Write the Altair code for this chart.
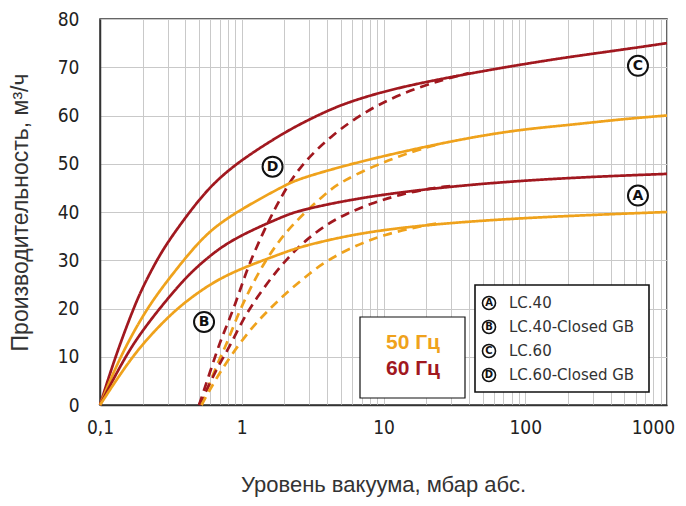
import altair as alt
import pandas as pd

# ---- data ----
C60_x = [0.1, 0.128, 0.172, 0.2, 0.251, 0.31, 0.5, 0.7, 1.05, 2, 3, 5, 10, 20, 50, 100, 200, 500, 1000]
C60 = [0, 10, 20, 24.4, 30, 34.4, 42.7, 47.2, 51.3, 56.5, 59.2, 62.3, 65, 67, 69.2, 70.7, 72.1, 73.7, 75]
C50_x = [0.1, 0.138, 0.213, 0.31, 0.5, 0.7, 1.05, 2, 2.58, 7.6, 38.6, 100, 200, 500, 1000]
C50 = [0, 10, 20, 26.4, 34, 37.7, 41, 45.5, 47, 50.9, 55.4, 57.2, 58, 59.3, 60]
A60_x = [0.1, 0.15, 0.2, 0.28, 0.4, 0.5, 0.7, 1.05, 2, 2.58, 7.6, 38.6, 195, 1000]
A60 = [0, 10, 15.5, 21, 26.3, 29, 32.6, 35.6, 39.2, 40.4, 43.3, 45.7, 47.1, 47.9]
A50_x = [0.1, 0.167, 0.25, 0.35, 0.5, 0.7, 1.05, 2, 2.58, 7.6, 38.6, 195, 1000]
A50 = [0, 10, 15.8, 20, 23.5, 26.2, 28.6, 31.6, 32.8, 36.1, 38.1, 39.2, 40]

D60_x = [0.5, 0.6, 0.7, 0.8, 0.95, 1.1, 1.4, 1.7, 2, 2.6, 4.4, 7.6, 13, 25, 40]
D60 = [0, 7, 13, 17, 22.8, 28.5, 35.5, 40.5, 44.3, 49.7, 56.2, 61, 64.4, 67.3, 68.8]
D50_x = [0.52, 0.66, 0.78, 0.94, 1.14, 1.42, 1.76, 2.3, 4, 5.2, 8.5, 13, 20, 25]
D50 = [0, 8.1, 12.5, 18.8, 24, 29.2, 33.3, 37.6, 44.2, 46.5, 49.5, 51.6, 53.4, 54.1]
B60_x = [0.5, 0.6, 0.7, 0.82, 1, 1.27, 1.67, 2.07, 2.8, 4, 5.5, 8.4, 13, 22, 30]
B60 = [0, 4.7, 8.7, 12, 17.3, 22.2, 26.9, 30.2, 34.1, 37.5, 39.7, 41.9, 43.6, 45, 45.4]
B50_x = [0.52, 0.65, 0.84, 1.17, 1.58, 2.13, 2.96, 4, 6.4, 10, 19, 25]
B50 = [0, 5.2, 10.3, 16, 20, 23.6, 27.1, 30, 33.1, 35.3, 37.2, 37.7]

labels_letter = ["A", "B", "C", "D"]
labels_x = [624, 0.542, 624, 1.65]
labels_y = [43.4, 17.2, 70.3, 49.4]

legend_letters = ["A", "B", "C", "D"]
legend_names = ["LC.40", "LC.40-Closed GB", "LC.60", "LC.60-Closed GB"]

x_ticks = [0.1, 0.2, 0.3, 0.4, 0.5, 0.6, 0.7, 0.8, 0.9,
           1, 2, 3, 4, 5, 6, 7, 8, 9,
           10, 20, 30, 40, 50, 60, 70, 80, 90,
           100, 200, 300, 400, 500, 600, 700, 800, 900, 1000]
y_ticks = [0, 10, 20, 30, 40, 50, 60, 70, 80]

ORANGE = "#efa21c"
DARKRED = "#a1181f"

rows = []
def add(name, freq, kind, xs, ys):
    for i, (a, b) in enumerate(zip(xs, ys)):
        rows.append({"x": a, "y": b, "series": name, "freq": freq, "kind": kind, "i": i})

add("D60", "60", "dashed", D60_x, D60)
add("D50", "50", "dashed", D50_x, D50)
add("B60", "60", "dashed", B60_x, B60)
add("B50", "50", "dashed", B50_x, B50)
add("C60", "60", "solid", C60_x, C60)
add("C50", "50", "solid", C50_x, C50)
add("A60", "60", "solid", A60_x, A60)
add("A50", "50", "solid", A50_x, A50)
df = pd.DataFrame(rows)

FONT_NUM = "Liberation Sans Narrow, DejaVu Sans Condensed, Roboto Condensed, Liberation Sans"
FONT_TXT = "Liberation Sans, Arial, sans-serif"

xscale = alt.Scale(type="log", domain=[0.1, 1000], nice=False)
yscale = alt.Scale(domain=[0, 80], nice=False)

x_axis = alt.Axis(
    values=x_ticks,
    labelExpr="datum.value == 0.1 ? '0,1' : (indexof([1, 10, 100, 1000], datum.value) >= 0 ? format(datum.value, 'd') : '')",
    labelOverlap=False, labelBound=False, labelFlush=False,
    labelOffset={"condition": {"test": "datum.value == 1000", "value": -14}, "value": 0},
    labelFont=FONT_NUM, labelFontSize=19, labelColor="#222", labelPadding=13,
    ticks=False, grid=True, gridColor="#c9c9c9", gridWidth=1,
    domainColor="#333", domainWidth=1.5,
    title="Уровень вакуума, мбар абс.", titleFont=FONT_TXT, titleFontSize=22,
    titleFontWeight="normal", titleColor="#333", titleX=283, titleY=79,
    titleBaseline="middle", titleAlign="center",
)
y_axis = alt.Axis(
    values=y_ticks, labelFont=FONT_NUM, labelFontSize=19, labelColor="#222",
    labelPadding=21, ticks=False, grid=True, gridColor="#c9c9c9", gridWidth=1,
    domainColor="#333", domainWidth=1.5,
    title="Производительность, м³/ч", titleFont=FONT_TXT, titleFontSize=23,
    titleFontWeight="normal", titleColor="#333", titleX=-80, titleY=193,
    titleAngle=-90, titleBaseline="middle", titleAlign="center",
)

lines = alt.Chart(df).mark_line(strokeWidth=2.7, interpolate="basis").encode(
    x=alt.X("x:Q", scale=xscale, axis=x_axis),
    y=alt.Y("y:Q", scale=yscale, axis=y_axis),
    color=alt.Color("freq:N", scale=alt.Scale(domain=["50", "60"], range=[ORANGE, DARKRED]), legend=None),
    strokeDash=alt.StrokeDash("kind:N", scale=alt.Scale(domain=["solid", "dashed"], range=[[1, 0], [9, 6]]), legend=None),
    detail="series:N",
    order="i:Q",
)

lab_df = pd.DataFrame({"letter": labels_letter, "x": labels_x, "y": labels_y})
lab_circ = alt.Chart(lab_df).mark_point(shape="circle", size=400, filled=True, fill="white",
                                        stroke="#111", strokeWidth=2, opacity=1).encode(
    x=alt.X("x:Q", scale=xscale), y=alt.Y("y:Q", scale=yscale))
lab_txt = alt.Chart(lab_df).mark_text(font="DejaVu Sans", fontSize=14, fontWeight="bold",
                                      color="#111", baseline="middle", align="center").encode(
    x=alt.X("x:Q", scale=xscale), y=alt.Y("y:Q", scale=yscale), text="letter:N")

one = pd.DataFrame({"a": [0]})
# frequency box
fbox = alt.Chart(one).mark_rect(fill="white", stroke="#111", strokeWidth=1.2).encode(
    x=alt.value(260), x2=alt.value(365), y=alt.value(298), y2=alt.value(379))
f50 = alt.Chart(one).mark_text(text="50 Гц", font="Liberation Sans", fontSize=21, fontWeight="bold",
                               color=ORANGE, align="center", baseline="middle").encode(
    x=alt.value(313), y=alt.value(324))
f60 = alt.Chart(one).mark_text(text="60 Гц", font="Liberation Sans", fontSize=21, fontWeight="bold",
                               color=DARKRED, align="center", baseline="middle").encode(
    x=alt.value(313), y=alt.value(350))

# letters legend box
lbox = alt.Chart(one).mark_rect(fill="white", stroke="#111", strokeWidth=1.6).encode(
    x=alt.value(375), x2=alt.value(549), y=alt.value(266), y2=alt.value(373))
leg_layers = []
for k, (lt, nm) in enumerate(zip(legend_letters, legend_names)):
    yy = 284 + 24 * k
    leg_layers.append(alt.Chart(one).mark_point(shape="circle", size=170, filled=True, fill="white",
                                                 stroke="#111", strokeWidth=1.6, opacity=1).encode(
        x=alt.value(389), y=alt.value(yy)))
    leg_layers.append(alt.Chart(one).mark_text(text=lt, font="DejaVu Sans", fontSize=10, fontWeight="bold",
                                                color="#111", align="center", baseline="middle").encode(
        x=alt.value(389), y=alt.value(yy)))
    leg_layers.append(alt.Chart(one).mark_text(text=nm, font="DejaVu Sans", fontSize=15,
                                                color="#333", align="left", baseline="middle").encode(
        x=alt.value(409), y=alt.value(yy)))

chart = alt.layer(lines, lab_circ, lab_txt, fbox, f50, f60, lbox, *leg_layers).properties(
    width=567, height=386,
    autosize=alt.AutoSizeParams(type="none"),
    padding={"left": 92, "top": 11, "right": 11, "bottom": 93},
    background="white",
).configure_view(stroke="#333", strokeWidth=1.5)

chart.save("out.html", embed_options={"renderer": "svg", "actions": False})
